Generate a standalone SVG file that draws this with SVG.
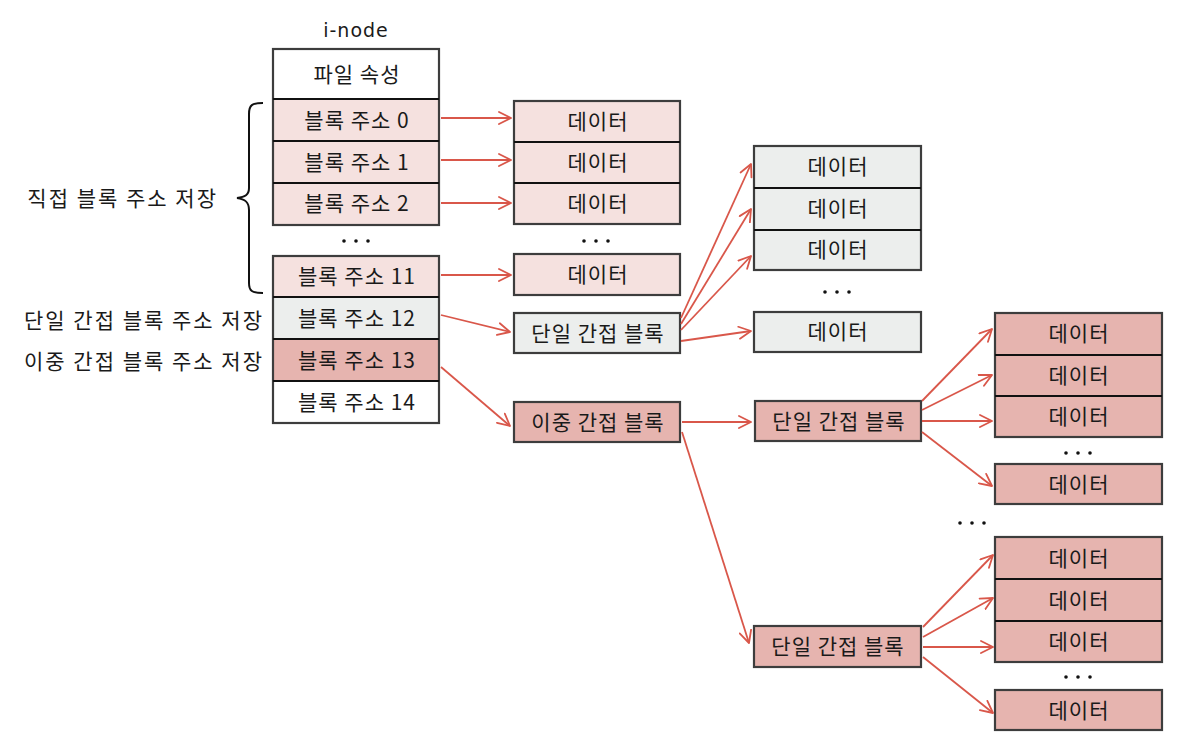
<svg xmlns="http://www.w3.org/2000/svg" width="1180" height="754" viewBox="0 0 1180 754">
  <defs>
    <marker id="arrow" viewBox="0 0 14 14" refX="13" refY="7" markerWidth="14" markerHeight="14" markerUnits="userSpaceOnUse" orient="auto">
      <path d="M1,1 L13,7 L1,13" fill="none" stroke="#d9574a" stroke-width="1.8" stroke-linecap="round" stroke-linejoin="round"/>
    </marker>
  </defs>
  <style>
    text { font-family: "Noto Sans CJK KR", "Noto Sans", sans-serif; fill: #1a1a1a; }
    .cell { font-size: 21px; text-anchor: middle; letter-spacing: 1px; }
    .label { font-size: 21px; text-anchor: end; letter-spacing: 2px; }
    .box { stroke: #3d3d3d; stroke-width: 2.2; }
    .sep { stroke: #111; stroke-width: 2; }
    .pink { fill: #f5e1df; }
    .gray { fill: #eceeed; }
    .red { fill: #e6b4af; }
    .white { fill: #ffffff; }
    .link { stroke: #d9574a; stroke-width: 1.8; fill: none; marker-end: url(#arrow); }
    .dot { fill: #111; }
  </style>
  <rect width="1180" height="754" fill="#ffffff"/>

  <!-- i-node table -->
  <g id="inode">
    <text x="356" y="37" style="font-family: 'DejaVu Sans', sans-serif; font-size: 19px; text-anchor: middle; letter-spacing: 1px;">i-node</text>
    <rect x="273" y="49" width="166" height="50" class="white"/>
    <rect x="273" y="99" width="166" height="126" class="pink"/>
    <rect x="273" y="49" width="166" height="176" class="box" fill="none"/>
    <line x1="273" y1="99" x2="439" y2="99" class="sep"/>
    <line x1="273" y1="141" x2="439" y2="141" class="sep"/>
    <line x1="273" y1="183" x2="439" y2="183" class="sep"/>
    <text x="357" y="82" class="cell">파일 속성</text>
    <text x="357" y="128" class="cell">블록 주소 0</text>
    <text x="357" y="170" class="cell">블록 주소 1</text>
    <text x="357" y="211" class="cell">블록 주소 2</text>
    <circle cx="344" cy="241" r="1.8" class="dot"/>
    <circle cx="356" cy="241" r="1.8" class="dot"/>
    <circle cx="368" cy="241" r="1.8" class="dot"/>
    <rect x="273" y="256" width="166" height="41" class="pink"/>
    <rect x="273" y="297" width="166" height="42" class="gray"/>
    <rect x="273" y="339" width="166" height="42" class="red"/>
    <rect x="273" y="381" width="166" height="42" class="white"/>
    <rect x="273" y="256" width="166" height="167" class="box" fill="none"/>
    <line x1="273" y1="297" x2="439" y2="297" class="sep"/>
    <line x1="273" y1="339" x2="439" y2="339" class="sep"/>
    <line x1="273" y1="381" x2="439" y2="381" class="sep"/>
    <text x="357" y="284" class="cell">블록 주소 11</text>
    <text x="357" y="326" class="cell">블록 주소 12</text>
    <text x="357" y="368" class="cell">블록 주소 13</text>
    <text x="357" y="410" class="cell">블록 주소 14</text>
  </g>

  <!-- labels on the left -->
  <g id="labels">
    <path d="M263,103 C252,103 249,105 249,114 L249,188 C249,195 245,197 237,198 C245,199 249,202 249,210 L249,283 C249,291 252,293 263,293" fill="none" stroke="#111" stroke-width="2"/>
    <text x="218" y="206" class="label">직접 블록 주소 저장</text>
    <text x="264" y="328" class="label">단일 간접 블록 주소 저장</text>
    <text x="264" y="369" class="label">이중 간접 블록 주소 저장</text>
  </g>

  <!-- direct data blocks -->
  <g id="direct-data">
    <rect x="514" y="101" width="166" height="123" class="pink box"/>
    <line x1="514" y1="142" x2="680" y2="142" class="sep"/>
    <line x1="514" y1="183" x2="680" y2="183" class="sep"/>
    <text x="598" y="129" class="cell">데이터</text>
    <text x="598" y="170" class="cell">데이터</text>
    <text x="598" y="211" class="cell">데이터</text>
    <circle cx="584" cy="241" r="1.8" class="dot"/>
    <circle cx="596" cy="241" r="1.8" class="dot"/>
    <circle cx="608" cy="241" r="1.8" class="dot"/>
    <rect x="514" y="254" width="166" height="41" class="pink box"/>
    <text x="598" y="282" class="cell">데이터</text>
  </g>

  <!-- single indirect block (from address 12) -->
  <g id="single-indirect">
    <rect x="514" y="313" width="166" height="40" class="gray box"/>
    <text x="598" y="341" class="cell">단일 간접 블록</text>
  </g>

  <g id="single-indirect-data">
    <rect x="754" y="146" width="167" height="124" class="gray box"/>
    <line x1="754" y1="188" x2="921" y2="188" class="sep"/>
    <line x1="754" y1="230" x2="921" y2="230" class="sep"/>
    <text x="838" y="174" class="cell">데이터</text>
    <text x="838" y="216" class="cell">데이터</text>
    <text x="838" y="257" class="cell">데이터</text>
    <circle cx="825" cy="292" r="1.8" class="dot"/>
    <circle cx="837" cy="292" r="1.8" class="dot"/>
    <circle cx="849" cy="292" r="1.8" class="dot"/>
    <rect x="754" y="312" width="167" height="40" class="gray box"/>
    <text x="838" y="339" class="cell">데이터</text>
  </g>

  <!-- double indirect block -->
  <g id="double-indirect">
    <rect x="514" y="402" width="166" height="40" class="red box"/>
    <text x="598" y="430" class="cell">이중 간접 블록</text>
  </g>

  <g id="double-single-1">
    <rect x="755" y="401" width="166" height="40" class="red box"/>
    <text x="839" y="429" class="cell">단일 간접 블록</text>
  </g>

  <g id="double-single-2">
    <rect x="754" y="626" width="167" height="41" class="red box"/>
    <text x="838" y="654" class="cell">단일 간접 블록</text>
  </g>

  <g id="double-data-1">
    <rect x="995" y="313" width="167" height="124" class="red box"/>
    <line x1="995" y1="355" x2="1162" y2="355" class="sep"/>
    <line x1="995" y1="396" x2="1162" y2="396" class="sep"/>
    <text x="1079" y="341" class="cell">데이터</text>
    <text x="1079" y="383" class="cell">데이터</text>
    <text x="1079" y="424" class="cell">데이터</text>
    <circle cx="1066" cy="453" r="1.8" class="dot"/>
    <circle cx="1078" cy="453" r="1.8" class="dot"/>
    <circle cx="1090" cy="453" r="1.8" class="dot"/>
    <rect x="995" y="464" width="167" height="40" class="red box"/>
    <text x="1079" y="492" class="cell">데이터</text>
  </g>

  <g id="double-more">
    <circle cx="960" cy="523" r="1.8" class="dot"/>
    <circle cx="972" cy="523" r="1.8" class="dot"/>
    <circle cx="984" cy="523" r="1.8" class="dot"/>
  </g>

  <g id="double-data-2">
    <rect x="995" y="537" width="167" height="125" class="red box"/>
    <line x1="995" y1="579" x2="1162" y2="579" class="sep"/>
    <line x1="995" y1="621" x2="1162" y2="621" class="sep"/>
    <text x="1079" y="566" class="cell">데이터</text>
    <text x="1079" y="608" class="cell">데이터</text>
    <text x="1079" y="649" class="cell">데이터</text>
    <circle cx="1066" cy="677" r="1.8" class="dot"/>
    <circle cx="1078" cy="677" r="1.8" class="dot"/>
    <circle cx="1090" cy="677" r="1.8" class="dot"/>
    <rect x="995" y="690" width="167" height="40" class="red box"/>
    <text x="1079" y="718" class="cell">데이터</text>
  </g>

  <!-- connectors -->
  <g id="connectors">
    <line x1="441" y1="118" x2="511" y2="118" class="link"/>
    <line x1="441" y1="160" x2="511" y2="160" class="link"/>
    <line x1="441" y1="203" x2="511" y2="203" class="link"/>
    <line x1="441" y1="275" x2="511" y2="275" class="link"/>
    <line x1="441" y1="315" x2="510" y2="332" class="link"/>
    <line x1="441" y1="367" x2="510" y2="426" class="link"/>

    <line x1="681" y1="318" x2="751" y2="164" class="link"/>
    <line x1="681" y1="324" x2="751" y2="209" class="link"/>
    <line x1="681" y1="330" x2="751" y2="256" class="link"/>
    <line x1="681" y1="341" x2="751" y2="331" class="link"/>

    <line x1="682" y1="422" x2="751" y2="422" class="link"/>
    <line x1="682" y1="432" x2="749" y2="643" class="link"/>

    <line x1="922" y1="401" x2="992" y2="329" class="link"/>
    <line x1="922" y1="410" x2="992" y2="375" class="link"/>
    <line x1="922" y1="421" x2="992" y2="421" class="link"/>
    <line x1="922" y1="432" x2="992" y2="486" class="link"/>

    <line x1="923" y1="627" x2="993" y2="555" class="link"/>
    <line x1="923" y1="637" x2="993" y2="598" class="link"/>
    <line x1="923" y1="647" x2="993" y2="647" class="link"/>
    <line x1="923" y1="657" x2="993" y2="713" class="link"/>
  </g>
</svg>
